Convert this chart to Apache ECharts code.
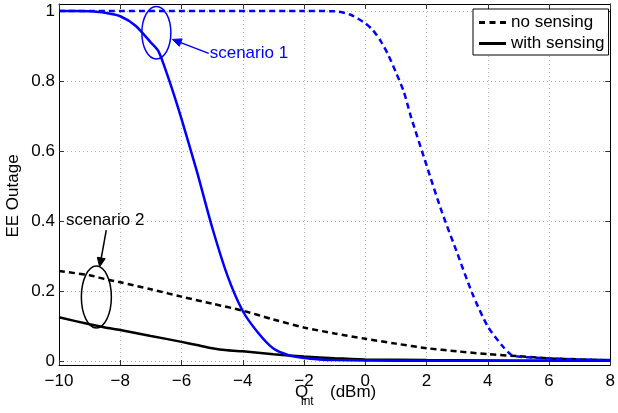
<!DOCTYPE html>
<html>
<head>
<meta charset="utf-8">
<script src="https://cdn.jsdelivr.net/npm/echarts@6/dist/echarts.min.js"></script>
<style>
  html, body { margin: 0; padding: 0; background: #fff; }
  #chart { width: 618px; height: 413px; }
</style>
</head>
<body>
<div id="chart"></div>
<script>
// Axis ticks
const xTicks = [-10, -8, -6, -4, -2, 0, 2, 4, 6, 8];
const yTicks = [0, 0.2, 0.4, 0.6, 0.8, 1];

// Scenario 1 (blue), no sensing
const s1NoSensX = [-10, -2, -1, -0.5, 0, 0.25, 0.5, 0.75, 1, 1.25, 1.5, 2, 2.5, 3, 3.5, 4, 4.5, 4.75, 5, 5.5, 6, 7, 8];
const s1NoSensY = [1.0, 1.0, 0.999, 0.99, 0.965, 0.945, 0.915, 0.875, 0.825, 0.772, 0.696, 0.56, 0.427, 0.31, 0.193, 0.10, 0.042, 0.02, 0.014, 0.011, 0.009, 0.006, 0.004];

// Scenario 1 (blue), with sensing
const s1SensX = [-10, -9.5, -9, -8.5, -8, -7.5, -7, -6.75, -6.5, -6.25, -6, -5.5, -5, -4.5, -4, -3.5, -3, -2.5, -2, -1.5, -1, 0, 2, 4, 6, 8];
const s1SensY = [1.0, 1.0, 0.999, 0.995, 0.985, 0.958, 0.91, 0.885, 0.827, 0.762, 0.692, 0.543, 0.383, 0.245, 0.144, 0.082, 0.037, 0.018, 0.010, 0.006, 0.004, 0.003, 0.002, 0.002, 0.002, 0.002];

// Scenario 2 (black), no sensing
const s2NoSensX = [-10, -9, -8.5, -8, -7, -6, -5, -4, -3, -2, -1, 0, 1, 2, 3, 4, 5, 6, 7, 8];
const s2NoSensY = [0.258, 0.246, 0.235, 0.226, 0.206, 0.185, 0.165, 0.145, 0.12, 0.097, 0.08, 0.065, 0.051, 0.038, 0.029, 0.021, 0.015, 0.009, 0.006, 0.004];

// Scenario 2 (black), with sensing
const s2SensX = [-10, -9, -8.5, -8, -7, -6, -5.5, -5, -4.5, -4, -3, -2, -1, 0, 2, 4, 6, 8];
const s2SensY = [0.126, 0.106, 0.097, 0.09, 0.073, 0.056, 0.047, 0.038, 0.032, 0.029, 0.021, 0.014, 0.009, 0.006, 0.004, 0.003, 0.002, 0.002];

const FONT = 'Liberation Sans, Arial, Helvetica, sans-serif';
const BLUE = '#0000ff';
const BLACK = '#000000';

// Legend keys: a dashed and a solid line segment
const DASHED_KEY = 'path://M0 0H6V1H0Z M10.5 0H16.5V1H10.5Z M21 0H27V1H21Z';
const SOLID_KEY = 'path://M0 0H27V1H0Z';

const pairs = (xs, ys) => xs.map((x, i) => [x, ys[i]]);

const chart = echarts.init(document.getElementById('chart'), null, { renderer: 'canvas' });

const gridLine = { show: true, lineStyle: { color: '#b4b4b4', type: [1, 3], width: 1 } };
const boxLine = { show: true, onZero: false, lineStyle: { color: '#000', width: 1 } };
const innerTick = { show: true, inside: true, length: 5, lineStyle: { color: '#333', width: 1 } };

function lineSeries(name, xs, ys, color, dashed) {
  return {
    name: name,
    type: 'line',
    data: pairs(xs, ys),
    symbol: 'none',
    smooth: 0.25,
    clip: true,
    lineStyle: { color: color, width: 2.5, type: dashed ? [6, 4] : 'solid' },
    itemStyle: { color: color },
    emphasis: { disabled: true },
    animation: false
  };
}

chart.setOption({
  animation: false,
  backgroundColor: '#fff',
  textStyle: { fontFamily: FONT },
  grid: { left: 59, top: 4, width: 556, height: 361, containLabel: false },
  xAxis: [
    {
      type: 'value', position: 'bottom', min: -10, max: 8, interval: 2,
      axisLine: boxLine, axisTick: innerTick, splitLine: gridLine,
      axisLabel: {
        margin: 8, fontSize: 17, color: '#000', fontFamily: FONT,
        formatter: v => String(v).replace('-', '\u2212')
      }
    },
    {
      type: 'value', position: 'top', min: -10, max: 8, interval: 2,
      axisLine: boxLine, axisTick: innerTick, splitLine: { show: false },
      axisLabel: { show: false }
    }
  ],
  yAxis: [
    {
      type: 'value', position: 'left', min: -0.01, max: 1.02,
      axisLine: boxLine,
      axisTick: Object.assign({ customValues: yTicks }, innerTick),
      splitLine: gridLine,
      axisLabel: {
        customValues: yTicks, margin: 4, fontSize: 17, color: '#000', fontFamily: FONT,
        formatter: v => (v === 0 ? '0' : v === 1 ? '1' : v.toFixed(1))
      }
    },
    {
      type: 'value', position: 'right', min: -0.01, max: 1.02,
      axisLine: boxLine,
      axisTick: Object.assign({ customValues: yTicks }, innerTick),
      splitLine: { show: false },
      axisLabel: { show: false, customValues: yTicks }
    }
  ],
  legend: {
    data: [
      { name: 'no sensing', icon: DASHED_KEY },
      { name: 'with sensing', icon: SOLID_KEY }
    ],
    orient: 'vertical',
    left: 473, top: 9,
    itemWidth: 27, itemHeight: 3, itemGap: 4,
    symbolKeepAspect: false,
    padding: [5, 4, 3, 6],
    backgroundColor: '#fff',
    borderColor: '#000', borderWidth: 1, borderRadius: 0,
    selectedMode: false,
    itemStyle: { color: '#000', borderWidth: 0 },
    textStyle: { fontSize: 17, color: '#000', fontFamily: FONT }
  },
  series: [
    lineSeries('no sensing', s2NoSensX, s2NoSensY, BLACK, true),
    lineSeries('with sensing', s2SensX, s2SensY, BLACK, false),
    lineSeries('scenario 1 no sensing', s1NoSensX, s1NoSensY, BLUE, true),
    lineSeries('scenario 1 with sensing', s1SensX, s1SensY, BLUE, false)
  ]
});

// Annotations, anchored in data coordinates
const toPx = p => chart.convertToPixel({ gridIndex: 0 }, p);

function ellipse(center, rx, ry, color) {
  const c = toPx(center);
  return {
    type: 'ellipse', z: 100,
    shape: { cx: c[0], cy: c[1], rx: rx, ry: ry },
    style: { fill: null, stroke: color, lineWidth: 1.5 }
  };
}

function arrow(from, to, color) {
  const a = toPx(from), b = toPx(to);
  const dx = b[0] - a[0], dy = b[1] - a[1];
  const len = Math.hypot(dx, dy);
  const ux = dx / len, uy = dy / len;
  const headLen = 9, headHalf = 4;
  const bx = b[0] - ux * headLen, by = b[1] - uy * headLen;
  return [
    {
      type: 'line', z: 100,
      shape: { x1: a[0], y1: a[1], x2: bx, y2: by },
      style: { stroke: color, lineWidth: 1.5 }
    },
    {
      type: 'polygon', z: 100,
      shape: { points: [[b[0], b[1]], [bx - uy * headHalf, by + ux * headHalf], [bx + uy * headHalf, by - ux * headHalf]] },
      style: { fill: color, stroke: color, lineWidth: 1 }
    }
  ];
}

function label(pos, text, color) {
  const p = toPx(pos);
  return {
    type: 'text', z: 100, x: p[0], y: p[1],
    style: { text: text, fill: color, font: '17px ' + FONT, align: 'left', verticalAlign: 'middle' }
  };
}

const graphics = [
  ellipse([-6.821, 0.938], 14.5, 26.2, BLUE),
  ...arrow([-5.111, 0.879], [-6.300, 0.919], BLUE),
  label([-5.079, 0.879], 'scenario 1', BLUE),
  ellipse([-8.780, 0.184], 15, 31, BLACK),
  ...arrow([-8.456, 0.375], [-8.673, 0.270], BLACK),
  label([-9.773, 0.402], 'scenario 2', BLACK),
  // axis titles
  {
    type: 'text', x: 13.5, y: 196, rotation: Math.PI / 2,
    style: { text: 'EE Outage', fill: '#000', font: '17px ' + FONT, align: 'center', verticalAlign: 'middle' }
  },
  {
    type: 'text', x: 295, y: 392.5,
    style: { text: 'Q', fill: '#000', font: '17px ' + FONT, align: 'left', verticalAlign: 'middle' }
  },
  {
    type: 'text', x: 301, y: 402,
    style: { text: 'int', fill: '#000', font: '12px ' + FONT, align: 'left', verticalAlign: 'middle' }
  },
  {
    type: 'text', x: 330, y: 392.5,
    style: { text: '(dBm)', fill: '#000', font: '17px ' + FONT, align: 'left', verticalAlign: 'middle' }
  }
];

chart.setOption({ graphic: graphics });
</script>
</body>
</html>
